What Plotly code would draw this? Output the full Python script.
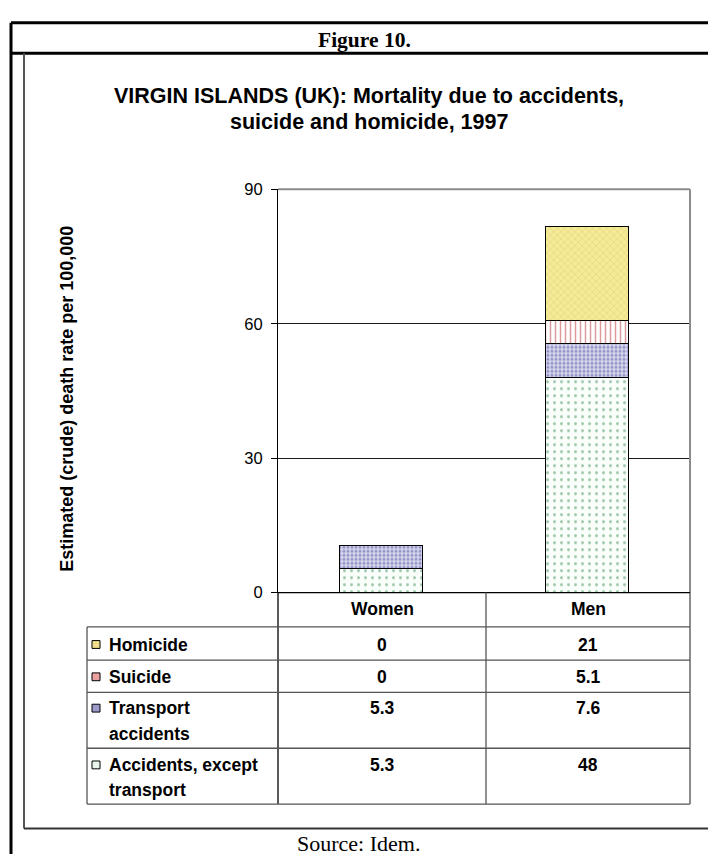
import plotly.graph_objects as go

# ---------------- data ----------------
categories = ["Women", "Men"]
homicide = [0, 21]
suicide = [0, 5.1]
transport = [5.3, 7.6]
accidents_other = [5.3, 48]
y_ticks = [0, 30, 60, 90]

series_names = ["Homicide", "Suicide", "Transport accidents", "Accidents, except transport"]
table_row_labels = [["Homicide"], ["Suicide"], ["Transport", "accidents"], ["Accidents, except", "transport"]]
table_row_values = [homicide, suicide, transport, accidents_other]

figure_label = "Figure 10."
title_lines = ["VIRGIN ISLANDS (UK): Mortality due to accidents,", "suicide and homicide, 1997"]
y_title = "Estimated (crude) death rate per 100,000"
source_text = "Source: Idem."

# ---------------- layout helpers ----------------
# the page body has an 8px margin, so the figure starts at page (8, 8)
OFF = 8
W, H = 716 - OFF, 863 - OFF
def X(px):
    return (px - OFF) / W
def Y(py):
    return 1 - (py - OFF) / H

SANS = "Liberation Sans, Arial, sans-serif"
SERIF = "Liberation Serif, Times New Roman, serif"

styles = {
    "Homicide": dict(bg="#F4EA98", fg="#D9C35A", shape="x", size=5, sol=0.25, key="#EEE08A"),
    "Suicide": dict(bg="#FFFFFF", fg="#B8373A", shape="|", size=5, sol=0.3, key="#E8A0A0"),
    "Transport accidents": dict(bg="#D6D6EE", fg="#4F4F9E", shape=".", size=4, sol=0.45, key="#9C9CCC"),
    "Accidents, except transport": dict(bg="#FAFEFA", fg="#3E8E58", shape=".", size=7, sol=0.14, key="#EAF5EA"),
}

fig = go.Figure()
# stack order bottom -> top
for name, vals in [("Accidents, except transport", accidents_other),
                   ("Transport accidents", transport),
                   ("Suicide", suicide),
                   ("Homicide", homicide)]:
    s = styles[name]
    fig.add_trace(go.Bar(
        x=categories, y=vals, name=name,
        marker=dict(color=s["bg"], line=dict(color="#000000", width=1.2),
                    pattern=dict(shape=s["shape"], fgcolor=s["fg"], bgcolor=s["bg"],
                                 size=s["size"], solidity=s["sol"])),
        showlegend=False, hoverinfo="skip",
    ))

P_L, P_R, P_T, P_B = 278, 690, 184, 596
TAB_L, TAB_B = 87, 812
rows_y = [631, 665, 698, 755, 812]

fig.update_layout(
    width=W, height=H, autosize=False,
    margin=dict(l=0, r=0, t=0, b=0),
    paper_bgcolor="white", plot_bgcolor="white",
    barmode="stack", bargap=0.6,
    xaxis=dict(domain=[X(P_L), X(P_R)], range=[-0.5, 1.5], showticklabels=False,
               showgrid=False, zeroline=False, showline=False, fixedrange=True),
    yaxis=dict(domain=[Y(P_B), Y(P_T)], range=[0, 90], tickvals=y_ticks,
               ticks="outside", ticklen=6, tickcolor="#000", tickwidth=1,
               showline=True, linecolor="#000", linewidth=1,
               showgrid=True, gridcolor="#1a1a1a", gridwidth=1, zeroline=False,
               tickfont=dict(family=SANS, size=16.5, color="#000"), ticklabelstandoff=5,
               fixedrange=True),
)

shapes = []
def line(x0, y0, x1, y1, color="#000", width=1):
    shapes.append(dict(type="line", xref="paper", yref="paper",
                       x0=X(x0), y0=Y(y0), x1=X(x1), y1=Y(y1),
                       line=dict(color=color, width=width), layer="above"))

# outer frame
line(11, 14, 716, 14, "#000", 3)
line(11, 14, 11, 863, "#000", 3)
line(11, 45, 716, 45, "#000", 3)
# chart area box
line(24, 45, 24, 837, "#555", 2)
line(713, 45, 713, 837, "#333", 2)
line(24, 837, 713, 837, "#333", 2)
# plot border top/right
line(P_L, P_T, P_R, P_T, "#8c8c8c", 2)
line(P_R, P_T, P_R, TAB_B, "#8c8c8c", 2)
# x axis / table header top
line(P_L, P_B, P_R, P_B, "#000", 1.3)
line(P_L, P_B, P_L, TAB_B, "#000", 1.3)
line(486, P_B, 486, TAB_B, "#555", 1.3)
for ry in rows_y:
    line(TAB_L, ry, P_R, ry, "#555", 1.3)
line(TAB_L, rows_y[0], TAB_L, TAB_B, "#555", 1.3)

annotations = []
def text(x, y, s, size, family=SANS, bold=True, xanchor="center", angle=0):
    annotations.append(dict(xref="paper", yref="paper", x=X(x), y=Y(y), text=(f"<b>{s}</b>" if bold else s),
                            showarrow=False, xanchor=xanchor, yanchor="middle", textangle=angle,
                            font=dict(family=family, size=size, color="#000")))

text(364, 31, figure_label, 21.5, SERIF)
text(369, 89, title_lines[0], 21.5)
text(369, 115, title_lines[1], 21.5)
text(67, 398, y_title, 18, angle=-90)
text(358, 852, source_text, 22, SERIF, bold=False)

col_x = [382, 588]
for c, cx in zip(categories, col_x):
    text(cx, 613, c, 17.5)

line1_y = [649, 682, 714, 772]
for i, (labels, vals, name) in enumerate(zip(table_row_labels, table_row_values, series_names)):
    y0 = line1_y[i]
    for j, lab in enumerate(labels):
        text(107, y0 + j * 26, lab, 17.5, xanchor="left")
    for cx, v in zip(col_x, vals):
        text(cx, y0, f"{v:g}", 17.5)
    # legend key
    s = styles[name]
    shapes.append(dict(type="rect", xref="paper", yref="paper",
                       x0=X(92), x1=X(100), y0=Y(y0 + 4), y1=Y(y0 - 4),
                       fillcolor=s["key"], line=dict(color="#000", width=1), layer="above"))

fig.update_layout(shapes=shapes, annotations=annotations)
fig.write_html("out.html")
